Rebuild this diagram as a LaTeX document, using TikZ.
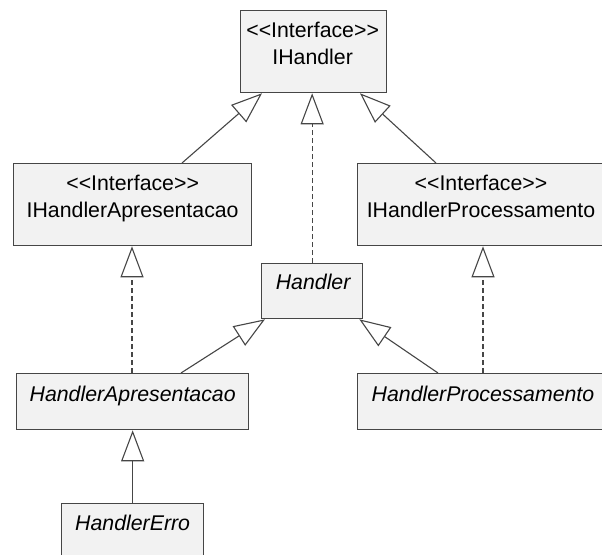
\documentclass[tikz,border=0pt]{standalone}
\usepackage{fontspec}
\setmainfont{Liberation Sans}[Ligatures=TeXOff]
\usetikzlibrary{arrows.meta,calc}
\definecolor{boxfill}{RGB}{242,242,242}
\definecolor{edge}{RGB}{70,70,70}
\begin{document}
\begin{tikzpicture}[x=1pt,y=-1pt,
  umlbox/.style={draw=edge,fill=boxfill,line width=1.3pt,rectangle,inner sep=0pt},
  lbl/.style={anchor=base,inner sep=0pt,font=\fontsize{21.3}{24}\selectfont,text=black},
  ilbl/.style={lbl,font=\fontsize{21.3}{24}\selectfont\itshape},
  gen/.style={draw=edge,line width=1.1pt,-{Triangle[open,length=31pt,width=23pt,fill=white]}},
  real/.style={gen,dash pattern=on 5pt off 3pt},
]
\useasboundingbox (0,0) rectangle (602,554);
\fill[white] (0,0) rectangle (602,554);
% boxes
\node[umlbox,minimum width=146pt,minimum height=82pt,anchor=north west] (ih) at (240,10) {};
\node[umlbox,minimum width=238pt,minimum height=82pt,anchor=north west] (ia) at (13,163) {};
\node[umlbox,minimum width=251pt,minimum height=82pt,anchor=north west] (ip) at (357,163) {};
\node[umlbox,minimum width=101pt,minimum height=55pt,anchor=north west] (h) at (261,263) {};
\node[umlbox,minimum width=232pt,minimum height=56pt,anchor=north west] (ha) at (16,373) {};
\node[umlbox,minimum width=251pt,minimum height=56pt,anchor=north west] (hp) at (357,373) {};
\node[umlbox,minimum width=142pt,minimum height=62pt,anchor=north west] (he) at (61,503) {};
% labels
\node[lbl] (ihs) at ($(ih.north)+(-1,27)$) {<<Interface>>};
\node[lbl] (ihn) at ($(ih.north)+(-1,54)$) {IHandler};
\node[lbl] (ias) at ($(ia.north)+(0,27)$) {<<Interface>>};
\node[lbl] (ian) at ($(ia.north)+(0,54)$) {IHandlerApresentacao};
\node[lbl] (ips) at (481,190) {<<Interface>>};
\node[lbl] (ipn) at (481,217) {IHandlerProcessamento};
\node[ilbl] (hn) at ($(h.north)+(1,26)$) {Handler};
\node[ilbl] (han) at ($(ha.north)+(0,28)$) {HandlerApresentacao};
\node[ilbl] (hpn) at (483,401) {HandlerProcessamento};
\node[ilbl] (hen) at ($(he.north)+(0,27)$) {HandlerErro};
% connectors
\coordinate (c1a) at ($(ia.north west)+(169,0)$);
\coordinate (c1b) at ($(ih.south west)+(22,0)$);
\draw[gen] (c1a) -- (c1b);
\draw[real] (h.north) -- (h.north |- ih.south);
\coordinate (c3a) at ($(ip.north west)+(79,0)$);
\coordinate (c3b) at ($(ih.south west)+(120,0)$);
\draw[gen] (c3a) -- (c3b);
\coordinate (c4a) at ($(ha.north west)+(116,0)$);
\draw[real] (c4a) -- (c4a |- ia.south);
\coordinate (c5a) at ($(ha.north west)+(165,0)$);
\coordinate (c5b) at ($(h.south west)+(4,0)$);
\draw[gen] (c5a) -- (c5b);
\coordinate (c6a) at ($(hp.north west)+(81,0)$);
\coordinate (c6b) at ($(h.south east)+(-4,0)$);
\draw[gen] (c6a) -- (c6b);
\coordinate (c7a) at ($(hp.north west)+(126,0)$);
\draw[real] (c7a) -- (c7a |- ip.south);
\draw[gen] (he.north) -- (he.north |- ha.south);
\end{tikzpicture}
\end{document}
